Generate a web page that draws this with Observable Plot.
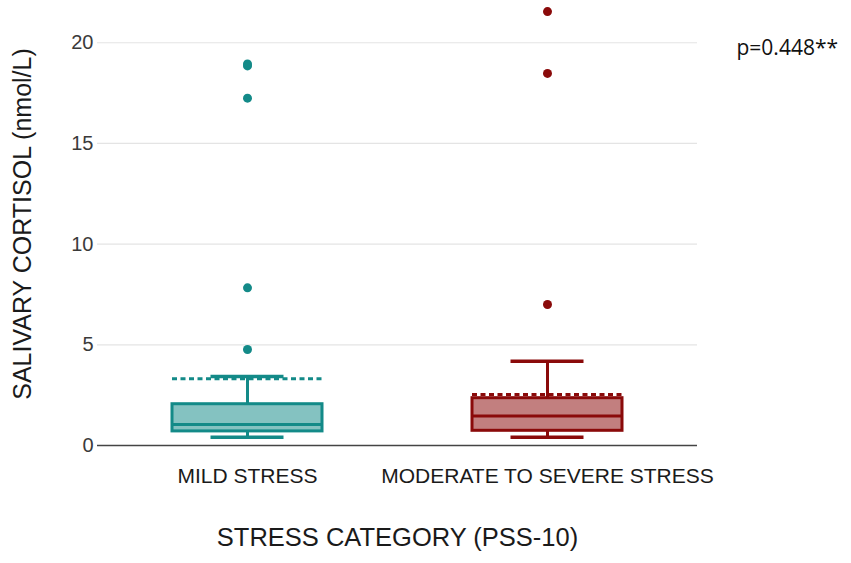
<!DOCTYPE html>
<html><head><meta charset="utf-8">
<script src="https://cdn.jsdelivr.net/npm/d3@7"></script>
<script src="https://cdn.jsdelivr.net/npm/@observablehq/plot@0.6"></script>
<style>body{margin:0;background:#fff}</style>
</head><body><div id="chart"></div>
<script>
const categories = ["MILD STRESS", "MODERATE TO SEVERE STRESS"];
const q1 = [0.70, 0.73];
const median = [1.04, 1.46];
const q3 = [2.05, 2.35];
const whiskerLow = [0.41, 0.41];
const whiskerHigh = [3.43, 4.19];
const means = [3.31, 2.53];
const mildOutliers = [4.77, 7.83, 17.25, 18.85, 18.95];
const moderateOutliers = [7.0, 18.48, 21.55];
const yTicks = [0, 5, 10, 15, 20];
const colors = ["#138a88", "#8a0a0a"];
const pLabel = "p=0.448**";
const yTitle = "SALIVARY CORTISOL (nmol/L)";
const xTitle = "STRESS CATEGORY (PSS-10)";

const rows = categories.map((c, i) => ({
  category: c, q1: q1[i], median: median[i], q3: q3[i],
  lo: whiskerLow[i], hi: whiskerHigh[i], mean: means[i]
}));
const outlierRows = [
  ...mildOutliers.map(v => ({category: categories[0], value: v})),
  ...moderateOutliers.map(v => ({category: categories[1], value: v}))
];

const chart = Plot.plot({
  width: 851, height: 563,
  marginTop: 2, marginBottom: 118, marginLeft: 97, marginRight: 154,
  style: {fontFamily: "'Liberation Sans', Arial, sans-serif", background: "#fff"},
  x: {domain: categories, padding: 0, label: null},
  y: {domain: [0, 22], label: null},
  color: {domain: categories, range: colors},
  marks: [
    Plot.gridY(yTicks.filter(t => t > 0), {stroke: "#e4e4e4", strokeOpacity: 1, strokeWidth: 1.2}),
    Plot.ruleY([0], {stroke: "#444", strokeWidth: 1.5}),
    Plot.axisY(yTicks, {tickSize: 0, tickPadding: 4, fontSize: 20, fill: "#3a3a3a", label: null}),
    Plot.axisX({tickSize: 0, tickPadding: 23, fontSize: 21, fill: "#1a1a1a", label: null}),
    Plot.ruleX(rows, {x: "category", y1: "lo", y2: "q1", stroke: "category", strokeWidth: 3}),
    Plot.ruleX(rows, {x: "category", y1: "q3", y2: "hi", stroke: "category", strokeWidth: 3}),
    Plot.barY(rows, {x: "category", y1: "q1", y2: "q3", fill: "category", fillOpacity: 0.52,
      stroke: "category", strokeWidth: 3, insetLeft: 75, insetRight: 75}),
    Plot.tickY(rows, {x: "category", y: "median", stroke: "category", strokeWidth: 3, insetLeft: 75, insetRight: 75}),
    Plot.tickY(rows, {x: "category", y: "lo", stroke: "category", strokeWidth: 3.5, insetLeft: 113.5, insetRight: 113.5}),
    Plot.tickY(rows, {x: "category", y: "hi", stroke: "category", strokeWidth: 3.5, insetLeft: 113.5, insetRight: 113.5}),
    Plot.tickY(rows, {x: "category", y: "mean", stroke: "category", strokeWidth: 3, strokeDasharray: "5,3.5", insetLeft: 75, insetRight: 75}),
    Plot.dot(outlierRows, {x: "category", y: "value", fill: "category", r: 4.5}),
    Plot.text([pLabel], {frameAnchor: "top-right", dx: 39, dy: 38, textAnchor: "start", fontSize: 21,
      fontFamily: "'Open Sans', sans-serif", fill: "#111"}),
    Plot.text([yTitle], {frameAnchor: "left", rotate: -90, dx: -75, textAnchor: "middle", fontSize: 25, fill: "#1a1a1a"}),
    Plot.text([xTitle], {frameAnchor: "bottom", dy: 100, fontSize: 25.5, fill: "#1a1a1a"})
  ]
});
document.getElementById("chart").appendChild(chart);
</script>
</body></html>
